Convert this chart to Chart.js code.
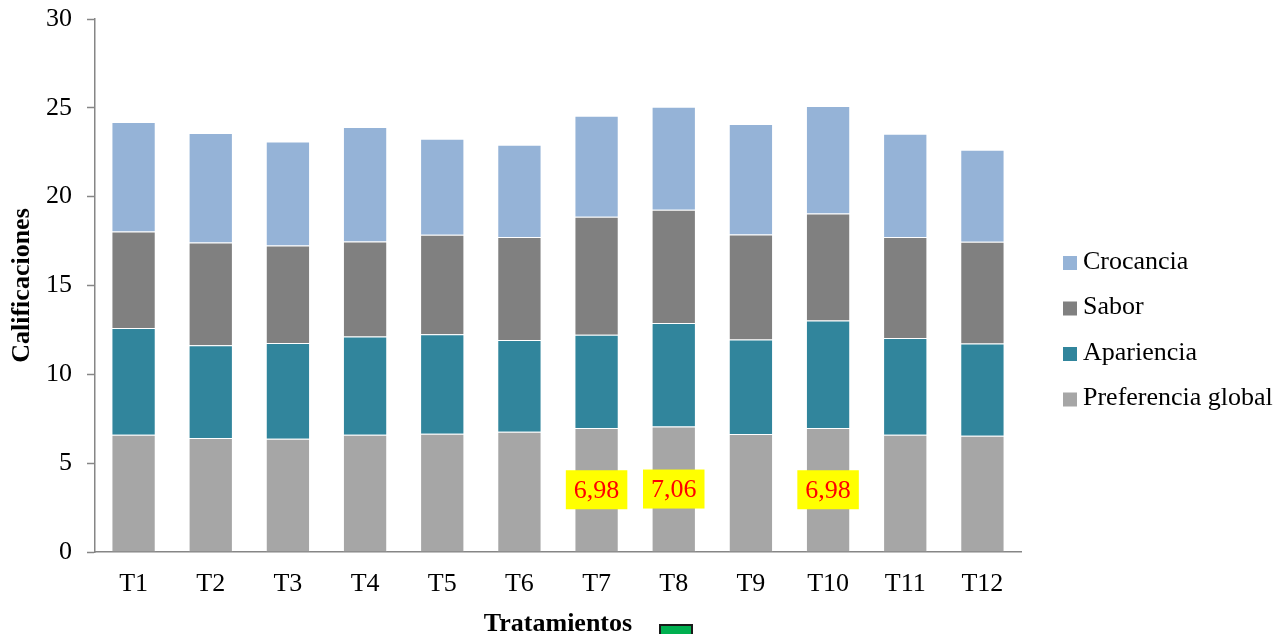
<!DOCTYPE html>
<html lang="es">
<head>
<meta charset="utf-8">
<title>Calificaciones por tratamiento</title>
<script src="https://cdn.jsdelivr.net/npm/chart.js@4.4.1/dist/chart.umd.min.js"></script>
<style>
  html, body { margin: 0; padding: 0; background: #fff; overflow: hidden; }
  #contenedor { position: relative; width: 1280px; height: 634px; }
  #marca {
    position: absolute; left: 659px; top: 624px; width: 30px; height: 14px;
    background: #00b050; border: 2px solid #1a1a1a;
  }
</style>
</head>
<body>
<div id="contenedor">
  <canvas id="Graf1" width="1280" height="634"></canvas>
  <div id="marca"></div>
</div>
<script>
// Datos
const tratamientos = ['T1', 'T2', 'T3', 'T4', 'T5', 'T6', 'T7', 'T8', 'T9', 'T10', 'T11', 'T12'];
const preferenciaGlobal = [6.60, 6.42, 6.38, 6.60, 6.66, 6.77, 6.98, 7.06, 6.64, 6.98, 6.60, 6.54];
const apariencia = [6.01, 5.21, 5.38, 5.53, 5.59, 5.16, 5.25, 5.83, 5.32, 6.05, 5.44, 5.20];
const sabor = [5.43, 5.79, 5.49, 5.35, 5.61, 5.80, 6.64, 6.37, 5.91, 6.02, 5.69, 5.72];
const crocancia = [6.16, 6.16, 5.86, 6.44, 5.40, 5.19, 5.68, 5.80, 6.22, 6.06, 5.81, 5.18];
const destacados = ['T7', 'T8', 'T10'];
const ticksY = [0, 5, 10, 15, 20, 25, 30];

const fuente = 'Liberation Serif, Times New Roman, serif';
const grisEje = '#868686';

// Etiquetas amarillas sobre la preferencia global de los tratamientos destacados
const etiquetasValor = {
  id: 'etiquetasValor',
  afterDatasetsDraw(chart) {
    const c = chart.ctx;
    const meta = chart.getDatasetMeta(0);
    c.save();
    c.font = '26px ' + fuente;
    c.textAlign = 'center';
    c.textBaseline = 'middle';
    meta.data.forEach((bar, i) => {
      if (!destacados.includes(tratamientos[i])) return;
      const texto = preferenciaGlobal[i].toFixed(2).replace('.', ',');
      const ancho = c.measureText(texto).width + 16;
      const alto = 39;
      const cy = (bar.y + bar.base) / 2;
      c.fillStyle = '#ffff00';
      c.fillRect(bar.x - ancho / 2, cy - alto / 2, ancho, alto);
      c.fillStyle = '#ff0000';
      c.fillText(texto, bar.x, cy + 1);
    });
    c.restore();
  }
};

// Leyenda a la derecha, en orden inverso al apilado
const leyenda = {
  id: 'leyenda',
  afterDraw(chart) {
    const c = chart.ctx;
    const sets = chart.data.datasets.slice().reverse();
    c.save();
    c.font = '26px ' + fuente;
    c.textAlign = 'left';
    c.textBaseline = 'middle';
    sets.forEach((ds, k) => {
      const y = 262 + k * 45.5;
      c.fillStyle = ds.backgroundColor;
      c.fillRect(1063, y - 6, 14, 14);
      c.fillStyle = '#000';
      c.fillText(ds.label, 1083, y);
    });
    c.restore();
  }
};

const ctx = document.getElementById('Graf1').getContext('2d');
const grafBar = new Chart(ctx, {
  type: 'bar',
  data: {
    labels: tratamientos,
    datasets: [
      { label: 'Preferencia global', data: preferenciaGlobal, backgroundColor: '#a6a6a6' },
      { label: 'Apariencia', data: apariencia, backgroundColor: '#31859c' },
      { label: 'Sabor', data: sabor, backgroundColor: '#808080' },
      { label: 'Crocancia', data: crocancia, backgroundColor: '#95b3d7' }
    ].map(ds => Object.assign(ds, {
      borderColor: 'rgba(255,255,255,0.3)',
      borderWidth: 1,
      barPercentage: 0.574,
      categoryPercentage: 1
    }))
  },
  options: {
    responsive: false,
    animation: false,
    layout: { padding: { top: 19, right: 259, left: 0, bottom: 0 } },
    plugins: {
      legend: { display: false },
      tooltip: { enabled: false }
    },
    scales: {
      x: {
        stacked: true,
        grid: { display: false, drawTicks: false },
        border: { display: true, color: grisEje, width: 1.5 },
        ticks: { color: '#000', font: { family: fuente, size: 26 }, padding: 17 },
        title: {
          display: true,
          text: 'Tratamientos',
          color: '#000',
          font: { family: fuente, size: 26, weight: 'bold' },
          padding: { top: 0, bottom: -6 }
        },
        afterFit(scale) {
          scale.height = 82;
          scale.paddingLeft = 0;
          scale.paddingRight = 0;
        }
      },
      y: {
        stacked: true,
        min: 0,
        max: 30,
        afterBuildTicks(scale) { scale.ticks = ticksY.map(v => ({ value: v })); },
        grid: {
          drawOnChartArea: false,
          drawTicks: true,
          tickLength: 8,
          tickColor: grisEje,
          tickWidth: 1.5
        },
        border: { display: true, color: grisEje, width: 1.5 },
        ticks: { color: '#000', font: { family: fuente, size: 26 }, padding: 15 },
        title: {
          display: true,
          text: 'Calificaciones',
          color: '#000',
          font: { family: fuente, size: 26, weight: 'bold' },
          padding: { top: 7, bottom: 0 }
        },
        afterFit(scale) {
          scale.width = 95;
          scale.paddingTop = 0;
          scale.paddingBottom = 0;
        }
      }
    }
  },
  plugins: [etiquetasValor, leyenda]
});
</script>
</body>
</html>
